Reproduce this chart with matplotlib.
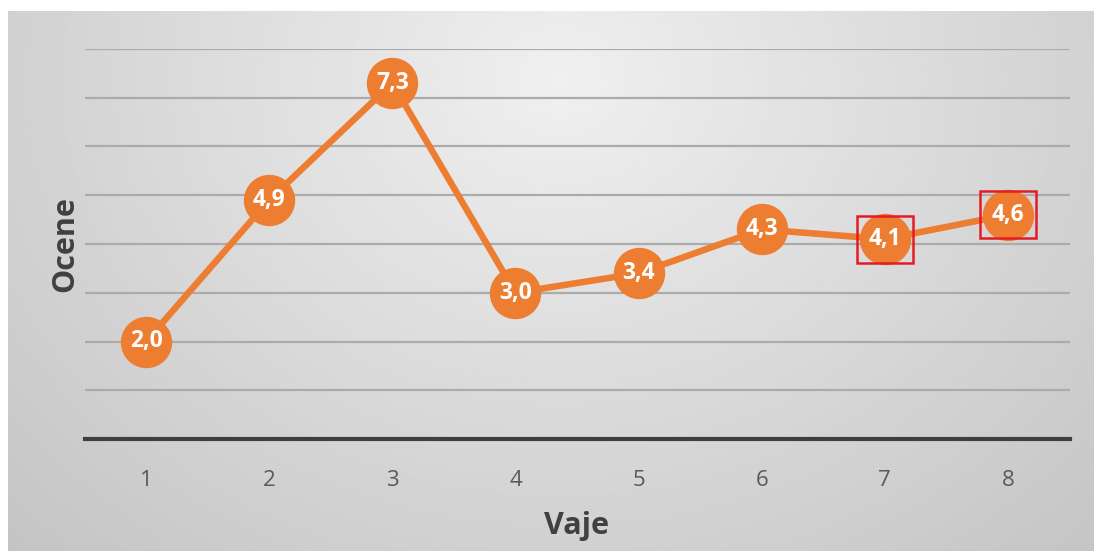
import numpy as np
import matplotlib.pyplot as plt

plt.rcParams['font.family'] = ['Open Sans', 'DejaVu Sans']

# --- data ---
vaje = [1, 2, 3, 4, 5, 6, 7, 8]
ocene = [2.0, 4.9, 7.3, 3.0, 3.4, 4.3, 4.1, 4.6]
oznacene = [7, 8]          # points whose labels get a red frame

orange = '#ED7D31'
W, H = 1094, 551

fig = plt.figure(figsize=(W / 100, H / 100), dpi=100)
fig.patch.set_facecolor('white')

# --- radial grey background ---
bg = fig.add_axes([8 / W, 0, (W - 8) / W, (H - 11) / H])
xx, yy = np.meshgrid(np.linspace(8, W, 400), np.linspace(11, H, 200))
r = np.hypot((xx - 560) / 600, (yy - 80) / 500)
shade = np.clip(0.94 - 0.13 * r, 0, 1)
bg.imshow(shade, cmap='gray', vmin=0, vmax=1, aspect='auto',
          extent=[0, 1, 0, 1], origin='upper', interpolation='bilinear')
bg.set_axis_off()

# --- plot area ---
ax = fig.add_axes([84.5 / W, 112 / H, 985 / W, 390 / H])
ax.patch.set_alpha(0)
ax.set_xlim(0.5, 8.5)
ax.set_ylim(0, 8)

for g in range(1, 9):
    ax.axhline(g, color='#ababab', lw=1.6, zorder=1)
ax.axhline(0, color='#3f3f3f', lw=3, zorder=2, clip_on=False)

ax.plot(vaje, ocene, color=orange, lw=4.7, marker='o', markersize=37,
        markerfacecolor=orange, markeredgewidth=0, zorder=3,
        solid_joinstyle='miter')

for x, y in zip(vaje, ocene):
    lbl = f'{y:.1f}'.replace('.', ',')
    kw = {}
    if x in oznacene:
        kw['bbox'] = dict(boxstyle='square,pad=0.5', fc='none',
                          ec='#e31b23', lw=1.8)
    ax.text(x, y, lbl, ha='center', va='center', color='white',
            fontsize=16.5, fontweight='bold', zorder=4, **kw)

for s in ax.spines.values():
    s.set_visible(False)
ax.set_yticks([])
ax.set_xticks(vaje)
ax.set_xticklabels([str(v) for v in vaje])
ax.tick_params(axis='x', length=0, pad=22, labelsize=16, labelcolor='#595959')

ax.set_xlabel('Vaje', fontsize=22, fontweight='bold', color='#404040', labelpad=15)
ax.set_ylabel('Ocene', fontsize=22, fontweight='bold', color='#404040', labelpad=3)

fig.savefig('out.png', dpi=100)
